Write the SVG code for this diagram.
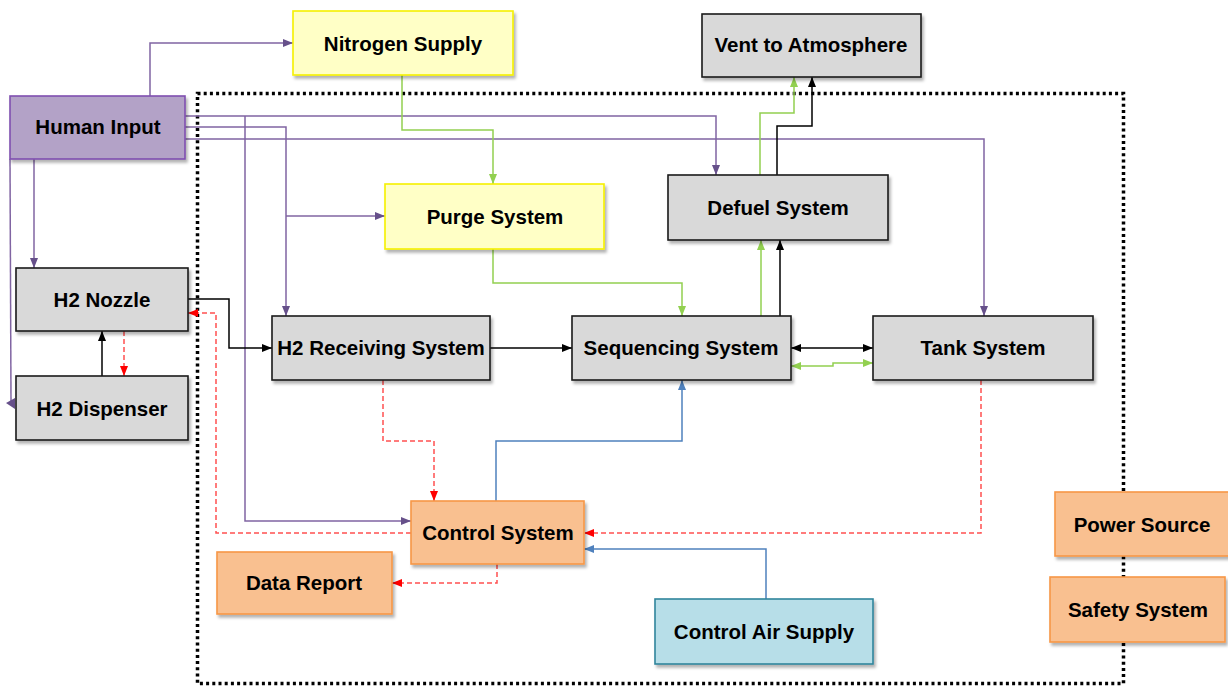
<svg xmlns="http://www.w3.org/2000/svg" width="1228" height="686" viewBox="0 0 1228 686">
  <style>
    .box { stroke-width: 1.6; filter: url(#shadow); }
    .gray { fill: #d9d9d9; stroke: #1a1a1a; }
    .yellow { fill: #ffffc6; stroke: #f5f000; }
    .purple { fill: #b3a2c7; stroke: #7f4fb0; }
    .orange { fill: #f9c090; stroke: #f79646; }
    .cyan { fill: #b7dee8; stroke: #31859c; }
    .lbl { font-family: "Liberation Sans", Arial, sans-serif; font-weight: bold; font-size: 20.5px; fill: #000; text-anchor: middle; }
    .c { fill: none; stroke-width: 1.5; }
    .cp { stroke: #8064a2; marker-end: url(#ap); }
    .ck { stroke: #000; marker-end: url(#ak); }
    .cg { stroke: #92d050; marker-end: url(#ag); }
    .cb { stroke: #4f81bd; marker-end: url(#ab); }
    .cr { stroke: #ff5050; stroke-dasharray: 5 3; marker-end: url(#ar); }
  </style>
  <defs>
    <filter id="shadow" x="-10%" y="-10%" width="130%" height="140%">
      <feDropShadow dx="2" dy="3" stdDeviation="1.5" flood-color="#000" flood-opacity="0.3"/>
    </filter>
    <marker id="ap" markerUnits="userSpaceOnUse" markerWidth="10" markerHeight="8" refX="10" refY="4" orient="auto-start-reverse"><path d="M0,0 L10,4 L0,8 z" fill="#66508a"/></marker>
    <marker id="ak" markerUnits="userSpaceOnUse" markerWidth="10" markerHeight="8" refX="10" refY="4" orient="auto-start-reverse"><path d="M0,0 L10,4 L0,8 z" fill="#000"/></marker>
    <marker id="ag" markerUnits="userSpaceOnUse" markerWidth="10" markerHeight="8" refX="10" refY="4" orient="auto-start-reverse"><path d="M0,0 L10,4 L0,8 z" fill="#92d050"/></marker>
    <marker id="ab" markerUnits="userSpaceOnUse" markerWidth="10" markerHeight="8" refX="10" refY="4" orient="auto-start-reverse"><path d="M0,0 L10,4 L0,8 z" fill="#4f81bd"/></marker>
    <marker id="ar" markerUnits="userSpaceOnUse" markerWidth="10" markerHeight="8" refX="10" refY="4" orient="auto-start-reverse"><path d="M0,0 L10,4 L0,8 z" fill="#ff0000"/></marker>
  </defs>
  <rect width="1228" height="686" fill="#fff"/>

  <!-- system boundary -->
  <rect id="boundary" x="197.5" y="93.5" width="926" height="590" fill="none" stroke="#000" stroke-width="3.5" stroke-dasharray="3 3.2"/>

  <g id="connectors">
    <!-- operator commands -->
    <path class="c cp" d="M150,96 V43 H293"/>
    <path class="c cp" d="M185,116 H716 V175"/>
    <path class="c cp" d="M245,116 V521 H411"/>
    <path class="c cp" d="M185,127 H286 V316"/>
    <path class="c cp" d="M286,216 H385"/>
    <path class="c cp" d="M184,139 H984 V316"/>
    <path class="c cp" d="M34,159 V268"/>
    <path class="c" stroke="#8064a2" d="M10,159 L11,401"/>
    <polygon points="6,403 15,398 15,409" fill="#66508a"/>
    <!-- hydrogen flow -->
    <path class="c ck" d="M188,299 H229 V348 H272"/>
    <path class="c ck" d="M102,376 V331"/>
    <path class="c ck" d="M490,348 H572"/>
    <path class="c ck" style="marker-start:url(#ak)" d="M791,348 H873"/>
    <path class="c ck" d="M780,316 V240"/>
    <path class="c ck" d="M777,175 V126 H812 V77"/>
    <!-- nitrogen purge -->
    <path class="c cg" d="M402,75 V130 H493 V184"/>
    <path class="c cg" d="M493,249 V283 H682 V316"/>
    <path class="c cg" style="marker-start:url(#ag)" d="M791,366 H833 V363 H873"/>
    <path class="c cg" d="M761,316 V240"/>
    <path class="c cg" d="M760,175 V113 H794 V77"/>
    <!-- control air -->
    <path class="c cb" d="M496,501 V441 H682 V380"/>
    <path class="c cb" d="M766,599 V549 H584"/>
    <!-- signals -->
    <path class="c cr" d="M383,380 V441 H434 V501"/>
    <path class="c cr" d="M411,533 H216 V313 H188"/>
    <path class="c cr" d="M124,331 V376"/>
    <path class="c cr" d="M981,380 V533 H584"/>
    <path class="c cr" d="M497,564 V583 H392"/>
  </g>

  <g id="human-input"><rect class="box purple" x="10" y="96" width="175" height="63"/><text class="lbl" x="98" y="134">Human Input</text></g>
  <g id="nitrogen-supply"><rect class="box yellow" x="293" y="11" width="220" height="64"/><text class="lbl" x="403" y="51">Nitrogen Supply</text></g>
  <g id="vent"><rect class="box gray" x="702" y="14" width="219" height="63"/><text class="lbl" x="811" y="52">Vent to Atmosphere</text></g>
  <g id="purge-system"><rect class="box yellow" x="385" y="184" width="219" height="65"/><text class="lbl" x="495" y="224">Purge System</text></g>
  <g id="defuel-system"><rect class="box gray" x="668" y="175" width="220" height="65"/><text class="lbl" x="778" y="215">Defuel System</text></g>
  <g id="h2-nozzle"><rect class="box gray" x="16" y="268" width="172" height="63"/><text class="lbl" x="102" y="307">H2 Nozzle</text></g>
  <g id="h2-dispenser"><rect class="box gray" x="16" y="376" width="172" height="64"/><text class="lbl" x="102" y="416">H2 Dispenser</text></g>
  <g id="h2-receiving"><rect class="box gray" x="272" y="316" width="218" height="64"/><text class="lbl" x="381" y="355">H2 Receiving System</text></g>
  <g id="sequencing-system"><rect class="box gray" x="572" y="316" width="219" height="64"/><text class="lbl" x="681" y="355">Sequencing System</text></g>
  <g id="tank-system"><rect class="box gray" x="873" y="316" width="220" height="64"/><text class="lbl" x="983" y="355">Tank System</text></g>
  <g id="control-system"><rect class="box orange" x="411" y="501" width="173" height="63"/><text class="lbl" x="498" y="540">Control System</text></g>
  <g id="data-report"><rect class="box orange" x="217" y="552" width="175" height="62"/><text class="lbl" x="304" y="590">Data Report</text></g>
  <g id="control-air-supply"><rect class="box cyan" x="655" y="599" width="218" height="65"/><text class="lbl" x="764" y="639">Control Air Supply</text></g>
  <g id="power-source"><rect class="box orange" x="1055" y="492" width="180" height="64"/><text class="lbl" x="1142" y="532">Power Source</text></g>
  <g id="safety-system"><rect class="box orange" x="1050" y="577" width="175" height="65"/><text class="lbl" x="1138" y="617">Safety System</text></g>
</svg>
